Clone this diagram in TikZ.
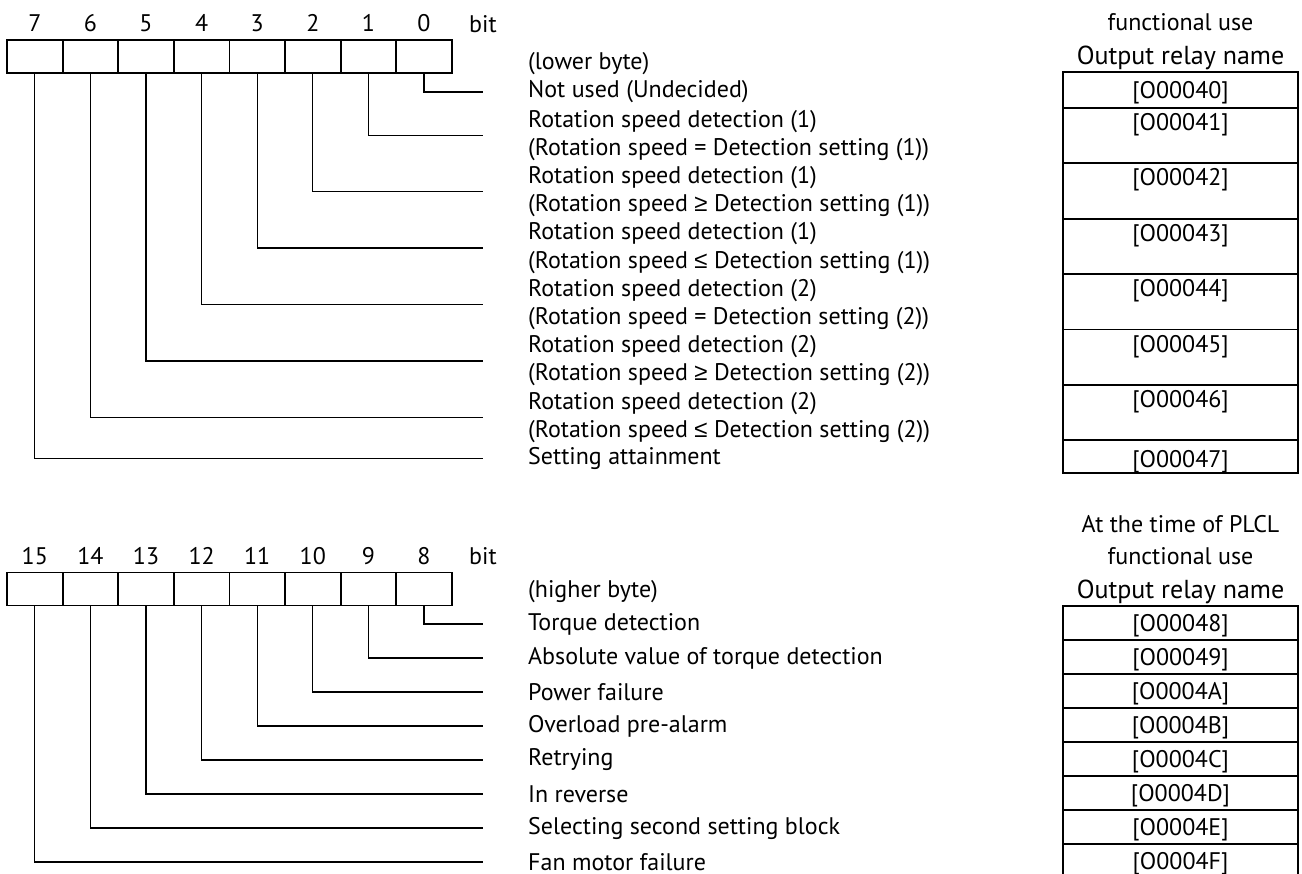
\documentclass[tikz,border=0pt]{standalone}
\usepackage{fontspec}
\setmainfont{PT Sans}
\newfontfamily\symfont{Liberation Sans}
\newcommand\relge{{\symfont ≥}}
\newcommand\relle{{\symfont ≤}}
\usetikzlibrary{positioning}
\tikzset{
  % Bit cell of the register
  bitcell/.style={
    draw,
    line width=1.8pt,
    minimum width=55.6pt,
    minimum height=33pt,
    inner sep=0pt
  },
  % Bit number above a cell
  bitnum/.style={
    inner sep=0pt,
    font=\fontsize{24}{28}\selectfont
  },
  % Lead from a cell to its description
  lead/.style={
    draw,
    line width=1.3pt
  },
  % Description text
  desc/.style={
    anchor=west,
    align=left,
    inner sep=0pt,
    font=\fontsize{24}{28.2}\selectfont
  },
  % Output relay cells
  relay/.style={
    draw,
    line width=1.8pt,
    minimum width=235pt,
    inner sep=0pt,
    outer sep=0pt,
    font=\fontsize{24}{28}\selectfont
  },
  rfirst/.style={relay, text height=26.5pt, text depth=9.5pt},
  rtall/.style={relay, text height=22.5pt, text depth=32.9pt},
  rlast/.style={relay, text height=27pt, text depth=6pt},
  rlow/.style={relay, text height=25.5pt, text depth=8.5pt},
  % Table heading
  hdr/.style={
    align=center,
    inner sep=0pt,
    font=\fontsize{24}{32}\selectfont
  }
}

\begin{document}
\begin{tikzpicture}[x=1pt, y=-1pt]
  \clip (0,0) rectangle (1302,874);
  % Lower byte register
  \foreach \k in {0,...,7} {
    \node[bitcell] (b\k) at ({7+55.6*(7.5-\k)}, 56.5) {};
    \node[bitnum, above=7pt of b\k] (n\k) {\k};
  }
  \node[bitnum, anchor=south] (bitu) at (483,33) {bit};
  \node[desc] (lowb) at (528,64) {(lower byte)};
  % Lower byte descriptions
  \node[desc] (d0) at (528,92) {Not used (Undecided)};
  \foreach \k/\rel/\s in {1/=/1, 2/\relge/1, 3/\relle/1, 4/=/2, 5/\relge/2, 6/\relle/2} {
    \node[desc] (d\k) at (528, {92+28.2*(2*\k-0.5)+1})
      {Rotation speed detection (\s)\\(Rotation speed \rel{} Detection setting (\s))};
  }
  \node[desc] (d7) at (528,458.6) {Setting attainment};
  \foreach \k in {0,...,7}
    \draw[lead] (b\k.south) |- ([xshift=-45pt]d\k.west);
  % Lower byte relay names
  \node[hdr, anchor=south] (hu) at (1180.5,70.5)
    {At the time of PLCL\\functional use\\[2pt]\fontsize{26}{32}\selectfont Output relay name};
  \node[rfirst, anchor=north] (r0) at (1180.5,72) {[O00040]};
  \foreach \n [remember=\n as \p (initially 0)] in {1,...,6}
    \node[rtall, below=0pt of r\p] (r\n) {[O0004\n]};
  \node[rlast, below=0pt of r6] (r7) {[O00047]};

  % Higher byte register
  \foreach \k in {8,...,15} {
    \node[bitcell] (b\k) at ({7+55.6*(15.5-\k)}, 589) {};
    \node[bitnum, above=7pt of b\k] (n\k) {\k};
  }
  \node[bitnum, anchor=south] (bitl) at (483,565) {bit};
  \node[desc] (highb) at (528,592) {(higher byte)};
  % Higher byte descriptions
  \foreach \k/\txt in {8/Torque detection, 9/Absolute value of torque detection,
      10/Power failure, 11/Overload pre-alarm, 12/Retrying, 13/In reverse,
      14/Selecting second setting block, 15/Fan motor failure} {
    \node[desc] (d\k) at (528, {624+34*(\k-8)}) {\txt};
    \draw[lead] (b\k.south) |- ([xshift=-45pt]d\k.west);
  }
  % Higher byte relay names
  \node[hdr, anchor=south] (hl) at (1180.5,604.5)
    {At the time of PLCL\\functional use\\[2pt]\fontsize{26}{32}\selectfont Output relay name};
  \node[rlow, anchor=north] (r8) at (1180.5,606) {[O00048]};
  \foreach \n/\h [remember=\n as \p (initially 8)] in {9/9,10/A,11/B,12/C,13/D,14/E,15/F}
    \node[rlow, below=0pt of r\p] (r\n) {[O0004\h]};
\end{tikzpicture}
\end{document}
